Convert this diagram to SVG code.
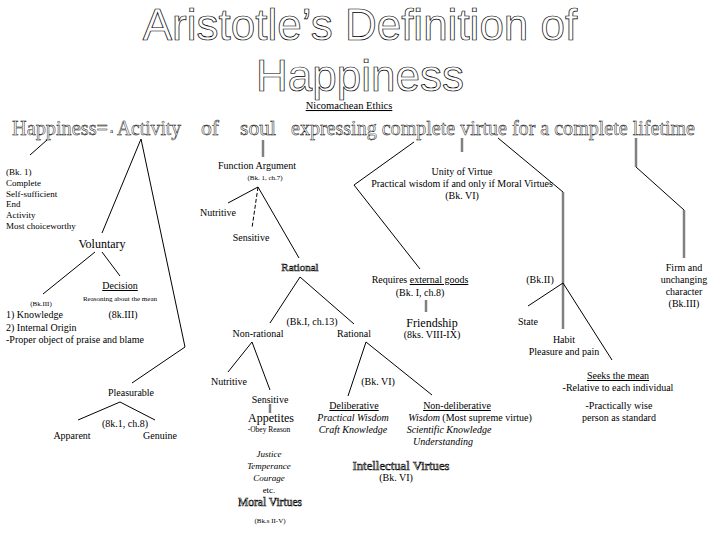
<svg xmlns="http://www.w3.org/2000/svg" width="720" height="540" viewBox="0 0 720 540">
<style>
text{font-family:"Liberation Serif","Times New Roman",serif;fill:#000;font-size:10px}
.c{text-anchor:middle}
.title{font-family:"Liberation Sans",Arial,sans-serif;font-size:44px;fill:#fff;stroke:#000;stroke-width:0.7}
.main{font-size:20px;fill:#fff;stroke:#000;stroke-width:0.45}
.emb{fill:#fff;stroke:#000;stroke-width:0.55;font-size:12px}
.s9{font-size:9px}
.s7{font-size:7px}
.s12{font-size:12px}
.i{font-style:italic}
.u{text-decoration:underline}
.ln{fill:none;stroke:#000;stroke-width:1}
.g{fill:none;stroke:#808080;stroke-width:2.5}
.d{stroke-dasharray:4,2}
</style>
<rect width="720" height="540" fill="#fff"/>
<g id="title">
<text class="title c" x="360" y="40">Aristotle’s Definition of</text>
<text class="title c" x="360" y="91">Happiness</text>
<text class="c u" x="349" y="109" style="font-size:10.5px">Nicomachean Ethics</text>
</g>
<g id="definition">
<text class="main" x="12" y="135" textLength="96" lengthAdjust="spacingAndGlyphs">Happiness=</text>
<text class="s7" x="110" y="133">a</text>
<text class="main" x="117" y="135" textLength="64" lengthAdjust="spacingAndGlyphs">Activity</text>
<text class="main" x="201" y="135" textLength="18" lengthAdjust="spacingAndGlyphs">of</text>
<text class="main" x="240" y="135" textLength="36" lengthAdjust="spacingAndGlyphs">soul</text>
<text class="main" x="291" y="135" textLength="404" lengthAdjust="spacingAndGlyphs">expressing complete virtue for a complete lifetime</text>
</g>
<g id="connectors">
<path class="ln" d="M47,140 L30,155"/>
<path class="ln" d="M102,233 L141,139 L185,347 L132,383"/>
<path class="ln" d="M95,252 L43,294"/>
<path class="ln" d="M102,252 L120,276"/>
<path class="ln" d="M78,420 L120,402 L155,420"/>
<path class="g" d="M263,140 L263,157"/>
<path class="ln" d="M228,203 L258,187 L299,258"/>
<path class="ln d" d="M258,187 L252,228"/>
<path class="ln" d="M270,323 L300,277 L354,324"/>
<path class="ln" d="M228,372 L252,342 L270,390"/>
<path class="g" d="M270,404 L270,413"/>
<path class="ln" d="M348,396 L366,342 L432,395"/>
<path class="g" d="M462,138 L462,152"/>
<path class="ln" d="M414,142 L354,185 L420,269"/>
<path class="g" d="M426,300 L426,312"/>
<path class="ln" d="M498,138 L563,192"/>
<path class="g" d="M563,192 L563,329"/>
<path class="ln" d="M528,306 L563,283 L612,360"/>
<path class="g" d="M636,138 L636,167"/>
<path class="ln" d="M636,167 L684,210"/>
<path class="g" d="M684,210 L684,258"/>
</g>
<g id="bk1-list">
<text class="s9" x="6" y="175">(Bk. 1)</text>
<text class="s9" x="6" y="186">Complete</text>
<text class="s9" x="6" y="197">Self-sufficient</text>
<text class="s9" x="6" y="207">End</text>
<text class="s9" x="6" y="218">Activity</text>
<text class="s9" x="6" y="229">Most choiceworthy</text>
</g>
<g id="voluntary">
<text class="c s12" x="102" y="248">Voluntary</text>
</g>
<g id="decision">
<text class="c u" x="120" y="289">Decision</text>
<text class="c s7" x="120" y="301">Reasoning about the mean</text>
<text class="c" x="123" y="318">(8k.III)</text>
</g>
<g id="knowledge">
<text class="c s7" x="41" y="306">(Bk.III)</text>
<text x="6" y="318">1) Knowledge</text>
<text x="6" y="331">2) Internal Origin</text>
<text x="6" y="343">-Proper object of praise and blame</text>
</g>
<g id="pleasurable">
<text class="c" x="131" y="396">Pleasurable</text>
<text class="c" x="125" y="427">(8k.1, ch.8)</text>
<text class="c" x="72" y="439">Apparent</text>
<text class="c" x="160" y="439">Genuine</text>
</g>
<g id="function">
<text class="c" x="257" y="169">Function Argument</text>
<text class="c s7" x="265" y="180">(Bk. 1, ch.7)</text>
</g>
<g id="nutritive1"><text class="c" x="218" y="216">Nutritive</text></g>
<g id="sensitive1"><text class="c" x="251" y="241">Sensitive</text></g>
<g id="rational1"><text class="c emb" x="300" y="271" style="font-size:11px">Rational</text></g>
<g id="bk1ch13"><text class="c" x="312" y="325">(Bk.I, ch.13)</text></g>
<g id="nonrational"><text class="c" x="258" y="337">Non-rational</text></g>
<g id="rational2"><text class="c" x="354" y="337">Rational</text></g>
<g id="nutritive2"><text class="c" x="229" y="385">Nutritive</text></g>
<g id="sensitive2"><text class="c" x="270" y="403">Sensitive</text></g>
<g id="appetites">
<text class="c s12" x="271" y="422">Appetites</text>
<text class="c" x="269" y="432" style="font-size:7.5px">-Obey Reason</text>
</g>
<g id="moral-virtues">
<text class="c i s9" x="269" y="457">Justice</text>
<text class="c i s9" x="269" y="469">Temperance</text>
<text class="c i s9" x="269" y="481">Courage</text>
<text class="c s9" x="269" y="493">etc.</text>
<text class="c emb" x="270" y="506" style="font-size:11.5px">Moral Virtues</text>
<text class="c s7" x="270" y="523">(Bk.s II-V)</text>
</g>
<g id="bkvi"><text class="c" x="378" y="385">(Bk. VI)</text></g>
<g id="deliberative">
<text class="c u" x="354" y="409">Deliberative</text>
<text class="c i" x="353" y="421">Practical Wisdom</text>
<text class="c i" x="353" y="433">Craft Knowledge</text>
</g>
<g id="nondeliberative">
<text class="c u" x="457" y="409">Non-deliberative</text>
<text class="c" x="470" y="421"><tspan class="i">Wisdom</tspan> (Most supreme virtue)</text>
<text class="c i" x="449" y="433">Scientific Knowledge</text>
<text class="c i" x="443" y="445">Understanding</text>
</g>
<g id="intellectual">
<text class="c emb" x="401" y="470" textLength="97" lengthAdjust="spacingAndGlyphs">Intellectual Virtues</text>
<text class="c" x="396" y="481">(Bk. VI)</text>
</g>
<g id="unity">
<text class="c" x="462" y="175">Unity of Virtue</text>
<text class="c" x="462" y="187">Practical wisdom if and only if Moral Virtues</text>
<text class="c" x="462" y="199">(Bk. VI)</text>
</g>
<g id="external">
<text class="c" x="420" y="283">Requires <tspan class="u">external goods</tspan></text>
<text class="c" x="420" y="296">(Bk. I, ch.8)</text>
</g>
<g id="friendship">
<text class="c s12" x="432" y="327">Friendship</text>
<text class="c" x="432" y="338">(8ks. VIII-IX)</text>
</g>
<g id="bkii"><text class="c" x="540" y="283">(Bk.II)</text></g>
<g id="state"><text class="c" x="528" y="325">State</text></g>
<g id="habit">
<text class="c" x="564" y="343">Habit</text>
<text class="c" x="564" y="355">Pleasure and pain</text>
</g>
<g id="mean">
<text class="c u" x="618" y="379">Seeks the mean</text>
<text class="c" x="618" y="391">-Relative to each individual</text>
<text class="c" x="619" y="409">-Practically wise</text>
<text class="c" x="619" y="421">person as standard</text>
</g>
<g id="firm">
<text class="c" x="684" y="271">Firm and</text>
<text class="c" x="684" y="283">unchanging</text>
<text class="c" x="684" y="295">character</text>
<text class="c" x="684" y="307">(Bk.III)</text>
</g>
</svg>
